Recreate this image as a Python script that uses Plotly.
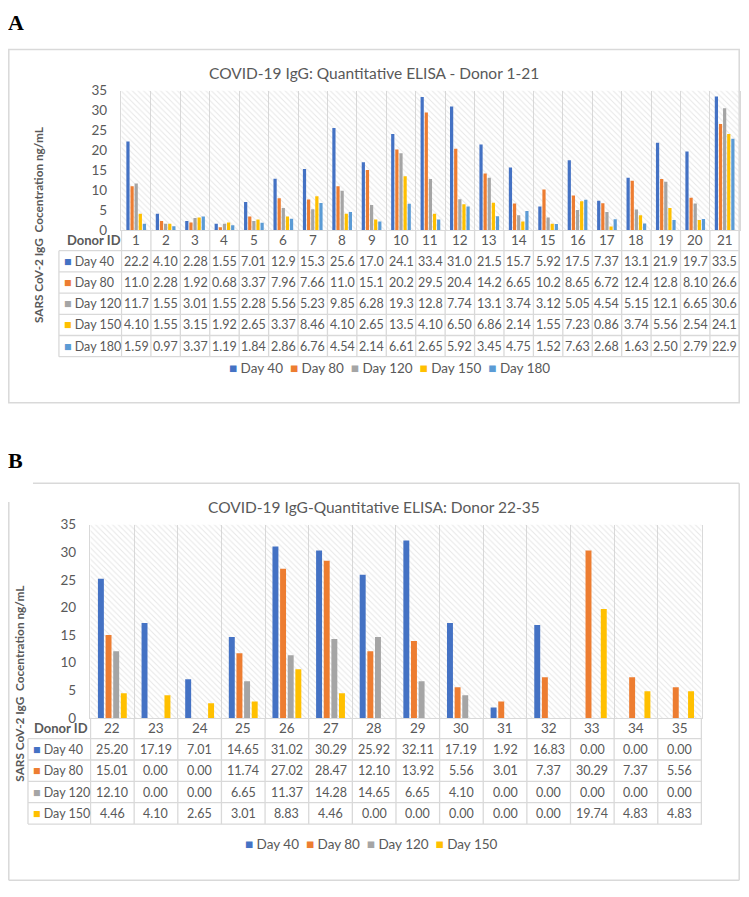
import plotly.graph_objects as go

# The page body keeps an 8px margin, so the figure is drawn 8px in from the
# window edge; reference pixel positions are translated by that offset.
WIN_W, WIN_H = 749, 897
OFF = 8
W, H = WIN_W - 2 * OFF, WIN_H - 2 * OFF

# ---------------- data ----------------
donors_a = [str(i) for i in range(1, 22)]
series_a = ["Day 40", "Day 80", "Day 120", "Day 150", "Day 180"]
day40_a = [22.2, 4.10, 2.28, 1.55, 7.01, 12.9, 15.3, 25.6, 17.0, 24.1, 33.4, 31.0, 21.5, 15.7, 5.92, 17.5, 7.37, 13.1, 21.9, 19.7, 33.5]
day80_a = [11.0, 2.28, 1.92, 0.68, 3.37, 7.96, 7.66, 11.0, 15.1, 20.2, 29.5, 20.4, 14.2, 6.65, 10.2, 8.65, 6.72, 12.4, 12.8, 8.10, 26.6]
day120_a = [11.7, 1.55, 3.01, 1.55, 2.28, 5.56, 5.23, 9.85, 6.28, 19.3, 12.8, 7.74, 13.1, 3.74, 3.12, 5.05, 4.54, 5.15, 12.1, 6.65, 30.6]
day150_a = [4.10, 1.55, 3.15, 1.92, 2.65, 3.37, 8.46, 4.10, 2.65, 13.5, 4.10, 6.50, 6.86, 2.14, 1.55, 7.23, 0.86, 3.74, 5.56, 2.54, 24.1]
day180_a = [1.59, 0.97, 3.37, 1.19, 1.84, 2.86, 6.76, 4.54, 2.14, 6.61, 2.65, 5.92, 3.45, 4.75, 1.52, 7.63, 2.68, 1.63, 2.50, 2.79, 22.9]

donors_b = [str(i) for i in range(22, 36)]
series_b = ["Day 40", "Day 80", "Day 120", "Day 150"]
day40_b = [25.20, 17.19, 7.01, 14.65, 31.02, 30.29, 25.92, 32.11, 17.19, 1.92, 16.83, 0.00, 0.00, 0.00]
day80_b = [15.01, 0.00, 0.00, 11.74, 27.02, 28.47, 12.10, 13.92, 5.56, 3.01, 7.37, 30.29, 7.37, 5.56]
day120_b = [12.10, 0.00, 0.00, 6.65, 11.37, 14.28, 14.65, 6.65, 4.10, 0.00, 0.00, 0.00, 0.00, 0.00]
day150_b = [4.46, 4.10, 2.65, 3.01, 8.83, 4.46, 0.00, 0.00, 0.00, 0.00, 0.00, 19.74, 4.83, 4.83]

y_ticks = [0, 5, 10, 15, 20, 25, 30, 35]

title_a = "COVID-19 IgG: Quantitative ELISA - Donor 1-21"
title_b = "COVID-19 IgG-Quantitative ELISA: Donor 22-35"
y_title = "SARS CoV-2 IgG  Cocentration ng/mL"
header_label = "Donor ID"

colors = {"Day 40": "#4472C4", "Day 80": "#ED7D31", "Day 120": "#A5A5A5",
          "Day 150": "#FFC000", "Day 180": "#5B9BD5"}

values_a = [day40_a, day80_a, day120_a, day150_a, day180_a]
values_b = [day40_b, day80_b, day120_b, day150_b]

# ---------------- styling helpers ----------------
FONT = "Lato, 'Open Sans', sans-serif"
GRAY = "#595959"
LINE = "#d9d9d9"


def px(x):
    return (x - OFF) / W


def py(y):
    return 1 - (y - OFF) / H


def fmt_a(v):
    return f"{v:.1f}" if v >= 10 else f"{v:.2f}"


def fmt_b(v):
    return f"{v:.2f}"


def swatch(name):
    return f"<span style='color:{colors[name]}'>■</span> {name}"


fig = go.Figure()

# ---------------- hatched backgrounds (base axes) ----------------
for xa, ya, donors in (("x", "y", donors_a), ("x2", "y2", donors_b)):
    fig.add_trace(go.Bar(
        x=donors, y=[y_ticks[-1]] * len(donors), width=1,
        xaxis=xa, yaxis=ya, showlegend=False, hoverinfo="skip",
        marker=dict(color="rgba(0,0,0,0)", line=dict(width=0),
                    pattern=dict(shape="\\", fgcolor="#cfcfcf", size=4, solidity=0.25)),
    ))

# ---------------- data bars (overlaying axes) ----------------
for name, vals in zip(series_a, values_a):
    fig.add_trace(go.Bar(x=donors_a, y=vals, name=name, xaxis="x3", yaxis="y",
                         marker=dict(color=colors[name], line=dict(width=0)),
                         showlegend=False))
for name, vals in zip(series_b, values_b):
    fig.add_trace(go.Bar(x=donors_b, y=vals, name=name, xaxis="x4", yaxis="y2",
                         marker=dict(color=colors[name], line=dict(width=0)),
                         showlegend=False))


# ---------------- axes ----------------
def xaxis_base(domain, cats):
    return dict(domain=domain, type="category", categoryorder="array", categoryarray=cats,
                tickson="boundaries", showgrid=True, gridcolor=LINE, gridwidth=1,
                showticklabels=False, ticks="", showline=True, linecolor=LINE,
                zeroline=False, fixedrange=True)


def yaxis_base(domain, anchor):
    return dict(domain=domain, anchor=anchor, range=[0, y_ticks[-1]], tickvals=y_ticks,
                showgrid=False, zeroline=False, showline=True, mirror=True, linecolor=LINE,
                ticks="", ticklabelstandoff=10,
                tickfont=dict(family=FONT, size=13.5, color=GRAY))


fig.update_layout(
    width=W, height=H, margin=dict(l=0, r=0, t=0, b=0),
    paper_bgcolor="white", plot_bgcolor="rgba(0,0,0,0)",
    barmode="group", bargap=0.3, bargroupgap=0.22,
    font=dict(family=FONT, color=GRAY),
    showlegend=False,
    xaxis=dict(**xaxis_base([px(121), px(741)], donors_a), anchor="y"),
    yaxis=yaxis_base([py(226), py(84)], "x"),
    xaxis2=dict(**xaxis_base([px(90), px(703)], donors_b), anchor="y2"),
    yaxis2=yaxis_base([py(723), py(526)], "x2"),
    xaxis3=dict(overlaying="x", matches="x", anchor="y", type="category",
                categoryorder="array", categoryarray=donors_a, visible=False),
    xaxis4=dict(overlaying="x2", matches="x2", anchor="y2", type="category",
                categoryorder="array", categoryarray=donors_b, visible=False),
)

shapes = []
annotations = []


def pline(x0, y0, x1, y1, width=1.5):
    shapes.append(dict(type="line", xref="paper", yref="paper",
                       x0=px(x0), x1=px(x1), y0=py(y0), y1=py(y1),
                       line=dict(color=LINE, width=width)))


def ann(text, x, y, size, color=GRAY, family=FONT, angle=0, bold=False,
        xref="paper", xanchor="center"):
    annotations.append(dict(text=f"<b>{text}</b>" if bold else text,
                            x=px(x) if xref == "paper" else x, y=py(y),
                            xref=xref, yref="paper", showarrow=False, textangle=angle,
                            xanchor=xanchor, yanchor="middle",
                            font=dict(family=family, size=size, color=color)))


# ---------------- data tables (drawn on the category scale) ----------------
def data_table(xref, donors, series, values, fmt, left, right, label_x, head_cx,
               top, head_h, row_h):
    n = len(donors)
    bottom = top + head_h + row_h * len(series)
    # horizontal rules
    for k in range(len(series) + 1):
        y = top + head_h + k * row_h
        pline(left, y, right, y, width=1.3)
    # left border of label column (below header)
    pline(left, top + head_h, left, bottom, width=1.3)
    # column separators at category boundaries
    for i in range(n + 1):
        shapes.append(dict(type="line", xref=xref, yref="paper",
                           x0=i - 0.5, x1=i - 0.5, y0=py(top), y1=py(bottom),
                           line=dict(color=LINE, width=1.3)))
    # header
    ann(header_label, head_cx, top + head_h / 2, 13, bold=True)
    for i, d in enumerate(donors):
        ann(d, i, top + head_h / 2, 13.5, xref=xref)
    # body
    for k, (name, vals) in enumerate(zip(series, values)):
        yc = top + head_h + k * row_h + row_h / 2
        ann(swatch(name), label_x, yc, 12.5, xanchor="left")
        for i, v in enumerate(vals):
            ann(fmt(v), i, yc, 12.5, xref=xref)


data_table("x", donors_a, series_a, values_a, fmt_a, 59, 741, 62, 94, 226, 21, 21.6)
data_table("x2", donors_b, series_b, values_b, fmt_b, 28, 703, 31, 61, 723, 21, 21.75)

# ---------------- frames ----------------
shapes.append(dict(type="rect", xref="paper", yref="paper",
                   x0=px(8.8), x1=px(740.2), y0=py(402), y1=py(42),
                   line=dict(color=LINE, width=1.5)))
pline(33, 484, 740.2, 484)
pline(740.2, 484, 740.2, 888.2)
pline(8.8, 888.2, 740.2, 888.2)
pline(8.8, 503, 8.8, 888.2)

# ---------------- text ----------------
legend_a = "  ".join(swatch(n) for n in series_a)
legend_b = "  ".join(swatch(n) for n in series_b)

ann("A", 16, 15, 22, color="black", family="'Liberation Serif', serif", bold=True)
ann("B", 16, 461, 22, color="black", family="'Liberation Serif', serif", bold=True)
ann(title_a, 374, 66, 15.5)
ann(title_b, 375, 508, 15.5)
ann(y_title, 38, 221, 11.8, angle=-90, bold=True)
ann(y_title, 20, 688, 11.8, angle=-90, bold=True)
ann(legend_a, 390, 367, 13.5)
ann(legend_b, 372, 851, 13.5)

fig.update_layout(shapes=shapes, annotations=annotations)

fig.write_html("out.html")
